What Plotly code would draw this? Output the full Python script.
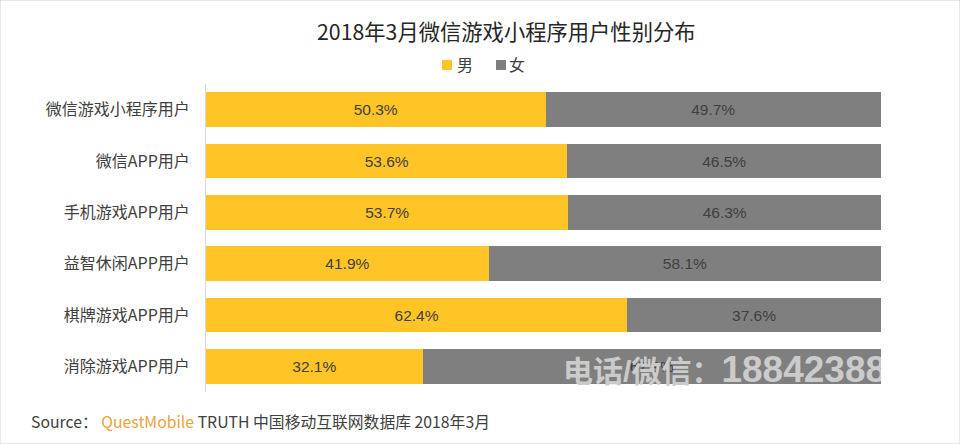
import plotly.graph_objects as go

categories = ["微信游戏小程序用户", "微信APP用户", "手机游戏APP用户", "益智休闲APP用户", "棋牌游戏APP用户", "消除游戏APP用户"]
male = [50.3, 53.6, 53.7, 41.9, 62.4, 32.1]
female = [49.7, 46.5, 46.3, 58.1, 37.6, 67.9]
title = "2018年3月微信游戏小程序用户性别分布"
source_parts = ["Source： ", "QuestMobile", " TRUTH 中国移动互联网数据库 2018年3月"]
watermark_parts = ["电话/微信：", "18842388"]
watermark_x = [52.9]
watermark_row = [5.13]
YELLOW, GREY = "#FFC425", "#7F7F7F"
FONT = "Noto Sans CJK SC"
W, H = 960, 444
L, R, T, B = 206, 79, 84, 52
PW, PH = W - L - R, H - T - B


def px(x):
    return (x - L) / PW


def py(y):
    return (H - B - y) / PH


fig = go.Figure()
for name, vals, col in [("男", male, YELLOW), ("女", female, GREY)]:
    fig.add_bar(
        y=categories, x=vals, name=name, orientation="h",
        marker=dict(color=col, line=dict(width=0)),
        text=[f"{v:.1f}%" for v in vals], textposition="inside", insidetextanchor="middle",
        textangle=0, constraintext="none",
        textfont=dict(size=15.5, color="#404040", family="Liberation Sans"),
        hoverinfo="skip",
    )
wm = (f'<b><span style="font-size:30px">{watermark_parts[0]}</span>'
      f'<span style="font-size:37px">{watermark_parts[1]}</span></b>')
fig.add_scatter(
    x=watermark_x, y=watermark_row, yaxis="y2", mode="text", text=[wm], textposition="middle right",
    textfont=dict(size=34, color="#CBCBCB", family="Liberation Sans, " + FONT),
    cliponaxis=True, showlegend=False, hoverinfo="skip",
)


def legend_item(x_sq, x_txt, label, color):
    sq = dict(type="rect", xref="paper", yref="paper", x0=px(x_sq), x1=px(x_sq + 10), y0=py(70), y1=py(60),
              fillcolor=color, line=dict(width=0))
    an = dict(text=label, x=px(x_txt), y=py(64), xref="paper", yref="paper", showarrow=False, xanchor="left",
              yanchor="middle", font=dict(size=16, color="#404040", family=FONT))
    return sq, an


sq1, an1 = legend_item(442, 455, fig.data[0].name, YELLOW)
sq2, an2 = legend_item(496, 507, fig.data[1].name, GREY)

fig.update_layout(
    width=W, height=H, margin=dict(l=L, r=R, t=T, b=B, autoexpand=False),
    paper_bgcolor="white", plot_bgcolor="white",
    barmode="stack", barnorm="percent", bargap=0.33, showlegend=False,
    font=dict(family=FONT, color="#404040"),
    xaxis=dict(range=[0, 100], visible=False),
    yaxis=dict(autorange="reversed", showline=True, linecolor="#D9D9D9", linewidth=1, ticks="",
               showgrid=False, tickfont=dict(size=16, color="#404040", family=FONT), ticklabelstandoff=12),
    yaxis2=dict(overlaying="y", range=[5.5, -0.5], visible=False),
    annotations=[
        dict(text=title, x=px(506), y=py(30), xref="paper", yref="paper", showarrow=False, xanchor="center",
             yanchor="middle", font=dict(size=21.3, color="#262626", family=FONT)),
        an1, an2,
        dict(text=f'{source_parts[0]}<span style="color:#E8A33D">{source_parts[1]}</span>{source_parts[2]}',
             x=px(29), y=py(421), showarrow=False, xanchor="left", yanchor="middle",
             xref="paper", yref="paper", font=dict(size=15.8, color="#404040", family=FONT)),
    ],
    shapes=[sq1, sq2,
            dict(type="rect", xref="paper", yref="paper", x0=px(0), x1=px(W), y0=py(H), y1=py(0),
                 line=dict(color="#CFCFCF", width=1), layer="below")],
)
fig.write_html("out.html", config=dict(displayModeBar=False),
               post_script="document.body.style.margin='0';document.body.style.overflow='hidden';")
